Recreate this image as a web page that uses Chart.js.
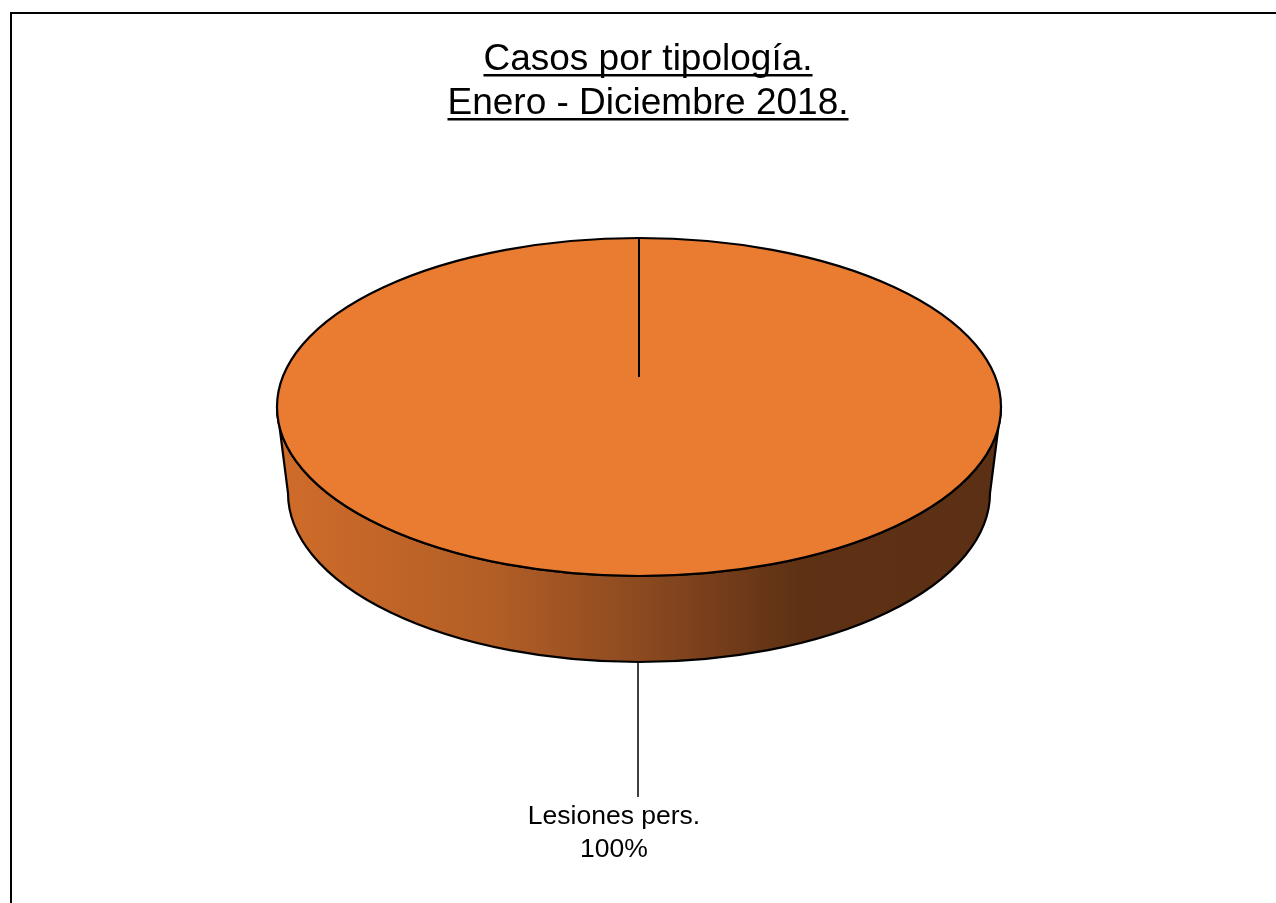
<!DOCTYPE html>
<html>
<head>
<meta charset="utf-8">
<script src="https://cdn.jsdelivr.net/npm/chart.js@4"></script>
<style>
  html, body { margin: 0; padding: 0; background: #fff; }
  #wrap { width: 1276px; height: 903px; position: relative; }
</style>
</head>
<body>
<div id="wrap"><canvas id="c"></canvas></div>
<script>
const labels = ['Lesiones pers.'];
const values = [100];
const titleLines = ['Casos por tipología.', 'Enero - Diciembre 2018.'];

const topColor = '#EA7C32';
const flatten = 169 / 362; // vertical squash of the pie top
const depth = 86;          // height of the cylinder side

// draws the 3d look: side first, then squashes the pie, then outline + labels
const pie3d = {
  id: 'pie3d',
  beforeDatasetsDraw(chart) {
    const arc = chart.getDatasetMeta(0).data[0];
    const ctx = chart.ctx;
    const cx = arc.x, cy = arc.y, rx = arc.outerRadius, ry = rx * flatten;
    const brx = rx - 11, by = cy + depth;

    const g = ctx.createLinearGradient(cx - rx, 0, cx + rx, 0);
    g.addColorStop(0, 'rgb(208,108,42)');
    g.addColorStop(0.3, 'rgb(178,94,38)');
    g.addColorStop(0.5, 'rgb(140,74,32)');
    g.addColorStop(0.72, 'rgb(94,49,21)');
    g.addColorStop(1, 'rgb(92,48,20)');

    ctx.save();
    ctx.beginPath();
    ctx.moveTo(cx + rx, cy);
    ctx.lineTo(cx + brx, by);
    ctx.ellipse(cx, by, brx, ry, 0, 0, Math.PI, false);
    ctx.lineTo(cx - rx, cy);
    ctx.ellipse(cx, cy, rx, ry, 0, Math.PI, 0, true);
    ctx.closePath();
    ctx.fillStyle = g;
    ctx.fill();
    ctx.lineWidth = 2.2;
    ctx.strokeStyle = '#000';
    ctx.stroke();
    ctx.restore();

    ctx.save();
    ctx.translate(cx, cy);
    ctx.scale(1, flatten);
    ctx.translate(-cx, -cy);
  },
  afterDatasetsDraw(chart) {
    const ctx = chart.ctx;
    ctx.restore();
    const arc = chart.getDatasetMeta(0).data[0];
    const cx = arc.x, cy = arc.y, rx = arc.outerRadius, ry = rx * flatten;

    ctx.save();
    ctx.strokeStyle = '#000';
    ctx.lineWidth = 2.2;
    ctx.beginPath();
    ctx.ellipse(cx, cy, rx, ry, 0, 0, Math.PI * 2);
    ctx.stroke();
    // slice edge
    ctx.lineWidth = 2;
    ctx.beginPath();
    ctx.moveTo(cx, cy - ry);
    ctx.lineTo(cx, cy - 30);
    ctx.stroke();
    // leader line
    const bottom = cy + depth + ry;
    ctx.lineWidth = 1.5;
    ctx.beginPath();
    ctx.moveTo(cx - 1, bottom);
    ctx.lineTo(cx - 1, bottom + 135);
    ctx.stroke();

    ctx.fillStyle = '#000';
    ctx.font = '26.5px "Liberation Sans", Arial, sans-serif';
    ctx.textAlign = 'center';
    ctx.textBaseline = 'alphabetic';
    const total = values.reduce((a, b) => a + b, 0);
    ctx.fillText(labels[0], cx - 25, bottom + 162);
    ctx.fillText(Math.round(values[0] / total * 100) + '%', cx - 25, bottom + 195);

    // title, underlined
    ctx.font = '37px "Liberation Sans", Arial, sans-serif';
    titleLines.forEach((t, i) => {
      const y = 70 + i * 44;
      ctx.fillText(t, 648, y);
      const w = ctx.measureText(t).width;
      ctx.fillRect(648 - w / 2, y + 4, w, 2.5);
    });

    // frame
    ctx.fillRect(10, 12, 2, 903);
    ctx.fillRect(10, 12, 1276, 2);
    ctx.restore();
  }
};

new Chart(document.getElementById('c'), {
  type: 'pie',
  data: {
    labels: labels,
    datasets: [{
      data: values,
      backgroundColor: [topColor],
      borderWidth: 0
    }]
  },
  options: {
    responsive: true,
    maintainAspectRatio: false,
    animation: false,
    layout: { padding: { left: 277, right: 275, top: 45, bottom: 134 } },
    plugins: {
      legend: { display: false },
      tooltip: { enabled: false },
      title: { display: false }
    }
  },
  plugins: [pie3d]
});
</script>
</body>
</html>
